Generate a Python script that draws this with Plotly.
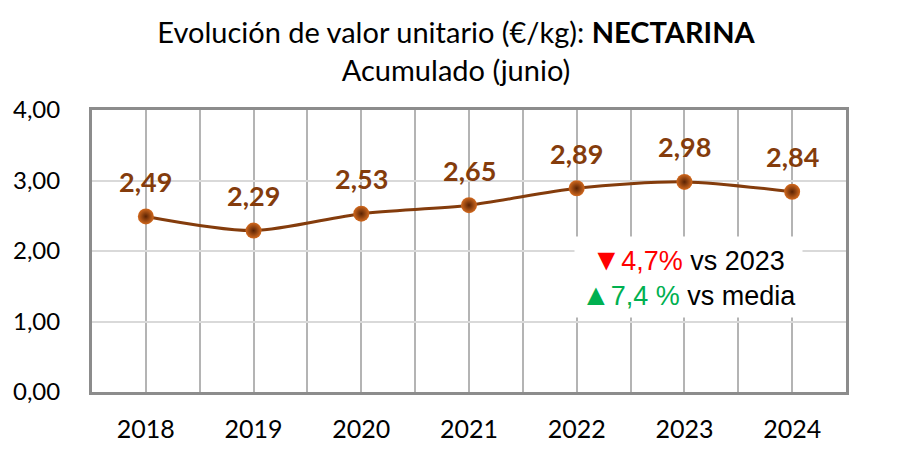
import plotly.graph_objects as go

years = ["2018", "2019", "2020", "2021", "2022", "2023", "2024"]
values = [2.49, 2.29, 2.53, 2.65, 2.89, 2.98, 2.84]
value_labels = ["2,49", "2,29", "2,53", "2,65", "2,89", "2,98", "2,84"]
ytick_vals = [0, 1, 2, 3, 4]
ytick_text = ["0,00", "1,00", "2,00", "3,00", "4,00"]
change_vs_prev = "4,7%"
change_vs_mean = "7,4 %"

xs = list(range(len(years)))
BROWN = "#843C0C"
FONT = "Lato, Carlito, sans-serif"

# page body has 8px default margin: compensate so the plot area lands where it should
W, H = 896, 461
L, T = 84, 102
PW, PH = 754, 282

fig = go.Figure()
fig.add_trace(go.Scatter(
    x=xs, y=values, mode="lines+markers",
    line=dict(color=BROWN, width=3, shape="spline", smoothing=0.8),
    marker=dict(size=16, color="#D2691E",
                gradient=dict(type="radial", color="#5A2304"),
                line=dict(width=0)),
    hoverinfo="skip", showlegend=False,
))

for x, v, t in zip(xs, values, value_labels):
    fig.add_annotation(x=x, y=v, text=f"<b>{t}</b>", showarrow=False,
                       yshift=35, font=dict(family=FONT, size=27, color=BROWN))

fig.add_annotation(
    xref="paper", yref="paper", x=(688 - 92) / PW, y=(392 - 277) / PH,
    xanchor="center", yanchor="middle",
    text=(f"<span style='color:#FF0000;font-size:30px'>▼</span>"
          f"<span style='color:#FF0000'>{change_vs_prev}</span> vs 2023<br>"
          f"<span style='color:#00B050;font-size:30px'>▲</span>"
          f"<span style='color:#00B050'>{change_vs_mean}</span> vs media"),
    showarrow=False, bgcolor="white", borderpad=6,
    font=dict(family="Liberation Sans, Arial, sans-serif", size=27, color="black"),
    align="center",
)

fig.update_layout(
    width=W, height=H,
    margin=dict(l=L, r=W - L - PW, t=T, b=H - T - PH, autoexpand=False),
    paper_bgcolor="white", plot_bgcolor="white",
    title=dict(text="Evolución de valor unitario (€/kg): <b>NECTARINA</b><br>Acumulado (junio)",
               x=0.5, xanchor="center", y=(461 - 35) / 461, yanchor="middle",
               font=dict(family=FONT, size=29, color="black")),
    xaxis=dict(range=[-0.5, 6.5], tickvals=xs, ticktext=years, automargin=False,
               showgrid=True, gridcolor="#B4B4B4", gridwidth=2,
               minor=dict(tickvals=[i - 0.5 for i in range(len(years) + 1)],
                          showgrid=True, gridcolor="#B4B4B4", gridwidth=2),
               showline=True, linecolor="#8C8C8C", linewidth=3, mirror=True,
               ticks="", ticklabelstandoff=13, zeroline=False,
               tickfont=dict(family=FONT, size=25, color="black")),
    yaxis=dict(range=[0, 4], tickvals=ytick_vals, ticktext=ytick_text, automargin=False,
               showgrid=True, gridcolor="#D9D9D9", gridwidth=2,
               showline=True, linecolor="#8C8C8C", linewidth=3, mirror=True,
               ticks="", ticklabelstandoff=24, zeroline=False,
               tickfont=dict(family=FONT, size=24, color="black")),
)

fig.write_html("out.html")
